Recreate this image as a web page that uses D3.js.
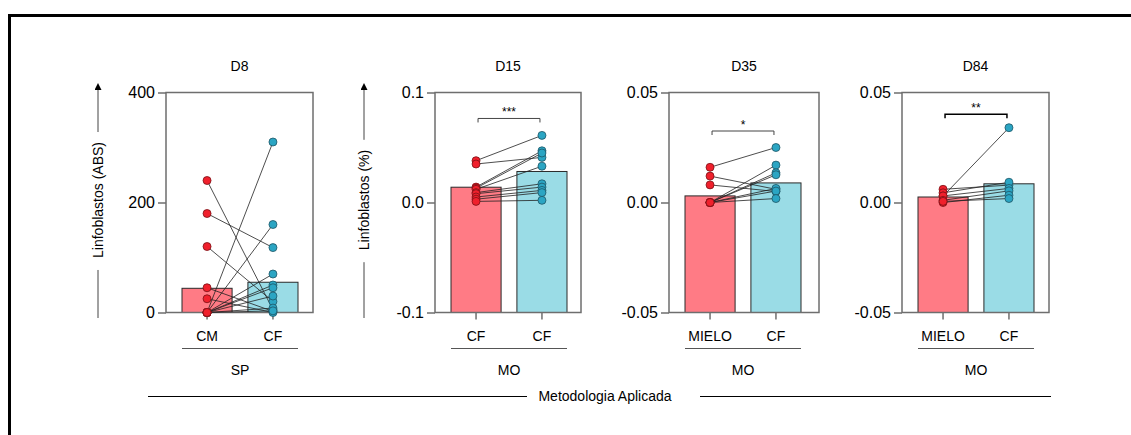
<!DOCTYPE html>
<html>
<head>
<meta charset="utf-8">
<script src="https://cdn.jsdelivr.net/npm/d3@7"></script>
<style>
  body { margin: 0; background: #fff; }
  svg { display: block; font-family: "Liberation Sans", Arial, sans-serif; }
</style>
</head>
<body>
<div id="chart"></div>
<script>
// panel titles, x categories, group labels
let panels = ["D8", "D15", "D35", "D84"];
let categories = [["CM", "CF"], ["CF", "CF"], ["MIELO", "CF"], ["MIELO", "CF"]];
let groupLabels = ["SP", "MO", "MO", "MO"];
let yDomains = [[0, 400], [-0.1, 0.1], [-0.05, 0.05], [-0.05, 0.05]];
let yTicks = [[0, 200, 400], [-0.1, 0, 0.1], [-0.05, 0, 0.05], [-0.05, 0, 0.05]];
let tickFormats = ["d", ".1f", ".2f", ".2f"];
let yLabels = ["Linfoblastos (ABS)", "Linfoblastos (%)", null, null];

// bar heights (means)
let barMeans = [[44, 55], [0.0139, 0.0282], [0.0030, 0.0089], [0.0025, 0.0085]];

// paired points: first column -> second column
let d8First = [240, 180, 120, 45, 25, 0, 0, 0, 0, 0, 0, 0, 0];
let d8Second = [5, 118, 20, 2, 0, 310, 160, 70, 50, 45, 30, 8, 3];
let d15First = [0.038, 0.035, 0.014, 0.013, 0.012, 0.009, 0.008, 0.005, 0.003, 0.001];
let d15Second = [0.061, 0.041, 0.047, 0.045, 0.033, 0.017, 0.014, 0.011, 0.009, 0.002];
let d35First = [0.016, 0.012, 0.008, 0, 0, 0, 0, 0, 0];
let d35Second = [0.025, 0.006, 0.005, 0.017, 0.0135, 0.0126, 0.0064, 0.0052, 0.0018];
let d84First = [0.006, 0.0044, 0.0029, 0.003, 0.001, 0, 0.0005];
let d84Second = [0.0079, 0.0092, 0.034, 0.0064, 0.0053, 0.0033, 0.0018];

// significance annotations
let sigLabels = [null, "***", "*", "**"];
let sigLevels = [null, 0.0764, 0.0325, 0.0401];

let pairs = [
  [d8First, d8Second],
  [d15First, d15Second],
  [d35First, d35Second],
  [d84First, d84Second]
];

let width = 1131, height = 435;
let plotTop = 92.5, plotBottom = 312.5;
let plotLeft = [166, 435, 669, 902];
let plotWidth = [147, 146, 150, 147];
let labelX = [98, 364];

let barColors = ["#ff7b85", "#9adce6"];
let dotColors = ["#f0202c", "#2ba5c3"];
let dotStroke = ["#7a1015", "#1d5566"];

let svg = d3.select("#chart")
  .append("svg")
  .attr("width", width)
  .attr("height", height);

svg.append("defs").append("marker")
  .attr("id", "arrow")
  .attr("viewBox", "0 0 10 10")
  .attr("refX", 5).attr("refY", 10)
  .attr("markerWidth", 7).attr("markerHeight", 9)
  .attr("markerUnits", "userSpaceOnUse")
  .attr("orient", "0")
  .append("path")
  .attr("d", "M0,10 L5,0 L10,10 Z")
  .attr("fill", "#000");

// outer frame
svg.append("path")
  .attr("d", `M9.5,${height} V15.5 H${width}`)
  .attr("fill", "none")
  .attr("stroke", "#000")
  .attr("stroke-width", 3);

panels.forEach((title, p) => {
  let w = plotWidth[p];
  let g = svg.append("g").attr("transform", `translate(${plotLeft[p]},0)`);

  let x = d3.scaleBand()
    .domain([0, 1])
    .range([16, 132])
    .paddingInner(0.24);

  let y = d3.scaleLinear()
    .domain(yDomains[p])
    .range([plotBottom, plotTop]);

  let cx = i => x(i) + x.bandwidth() / 2;
  let fmt = d3.format(tickFormats[p]);

  // bars
  g.selectAll("rect.bar")
    .data(barMeans[p])
    .enter()
    .append("rect")
    .attr("class", "bar")
    .attr("x", (d, i) => x(i))
    .attr("y", d => y(d))
    .attr("width", x.bandwidth())
    .attr("height", d => y(yDomains[p][0]) - y(d))
    .attr("fill", (d, i) => barColors[i])
    .attr("stroke", "#2a2a2a")
    .attr("stroke-width", 1);

  // plot box
  g.append("rect")
    .attr("x", 0)
    .attr("y", plotTop)
    .attr("width", w)
    .attr("height", plotBottom - plotTop)
    .attr("fill", "none")
    .attr("stroke", "#6e6e6e")
    .attr("stroke-width", 1.5);

  // y axis
  let yAxis = g.append("g")
    .call(d3.axisLeft(y)
      .tickValues(yTicks[p])
      .tickSize(8)
      .tickPadding(3)
      .tickFormat(d => fmt(d).replace("\u2212", "-")));
  yAxis.select(".domain").remove();
  yAxis.selectAll("line").attr("stroke", "#6e6e6e").attr("stroke-width", 1.5);
  yAxis.selectAll("text")
    .attr("fill", "#000")
    .style("font-size", "16px")
    .style("font-family", "'Liberation Sans', Arial, sans-serif");

  // x ticks and category labels
  [0, 1].forEach(i => {
    g.append("line")
      .attr("x1", cx(i)).attr("x2", cx(i))
      .attr("y1", plotBottom).attr("y2", plotBottom + 7)
      .attr("stroke", "#6e6e6e")
      .attr("stroke-width", 1.5);
    g.append("text")
      .attr("x", cx(i))
      .attr("y", 341)
      .attr("text-anchor", "middle")
      .style("font-size", "14px")
      .text(categories[p][i]);
  });

  // group line and label
  g.append("line")
    .attr("x1", 16).attr("x2", 132)
    .attr("y1", 348.5).attr("y2", 348.5)
    .attr("stroke", "#555")
    .attr("stroke-width", 1.2);
  g.append("text")
    .attr("x", 74)
    .attr("y", 375)
    .attr("text-anchor", "middle")
    .style("font-size", "14px")
    .text(groupLabels[p]);

  // title
  g.append("text")
    .attr("x", w / 2)
    .attr("y", 70.5)
    .attr("text-anchor", "middle")
    .style("font-size", "14px")
    .text(title);

  // paired lines
  let [first, second] = pairs[p];
  let pairData = first.map((v, i) => [v, second[i]]);
  g.selectAll("line.pair")
    .data(pairData)
    .enter()
    .append("line")
    .attr("class", "pair")
    .attr("x1", cx(0)).attr("x2", cx(1))
    .attr("y1", d => y(d[0]))
    .attr("y2", d => y(d[1]))
    .attr("stroke", "#222")
    .attr("stroke-opacity", 0.8)
    .attr("stroke-width", 1);

  // points
  [first, second].forEach((vals, i) => {
    g.selectAll(null)
      .data(vals)
      .enter()
      .append("circle")
      .attr("cx", cx(i))
      .attr("cy", d => y(d))
      .attr("r", 4)
      .attr("fill", dotColors[i])
      .attr("stroke", dotStroke[i])
      .attr("stroke-width", 0.8);
  });

  // significance bracket
  if (sigLabels[p]) {
    let sy = y(sigLevels[p]);
    let x0 = cx(0) + 2, x1 = cx(1) - 2;
    g.append("path")
      .attr("d", `M${x0},${sy + 4} V${sy} H${x1} V${sy + 4}`)
      .attr("fill", "none")
      .attr("stroke", p === 3 ? "#000" : "#444")
      .attr("stroke-width", p === 3 ? 1.5 : 1);
    g.append("text")
      .attr("x", (x0 + x1) / 2)
      .attr("y", sy - 2)
      .attr("text-anchor", "middle")
      .style("font-size", "12px")
      .text(sigLabels[p]);
  }

  // y label with arrow
  if (yLabels[p]) {
    let lx = labelX[p] - plotLeft[p];
    let label = g.append("text")
      .attr("transform", `translate(${lx},200) rotate(-90)`)
      .attr("text-anchor", "middle")
      .attr("dy", "0.35em")
      .style("font-size", "14px")
      .text(yLabels[p]);
    let half = label.node().getComputedTextLength() / 2;
    g.append("line")
      .attr("x1", lx).attr("x2", lx)
      .attr("y1", 200 - half - 10).attr("y2", 90)
      .attr("stroke", "#444")
      .attr("stroke-width", 1)
      .attr("marker-end", "url(#arrow)");
    g.append("line")
      .attr("x1", lx).attr("x2", lx)
      .attr("y1", 200 + half + 12).attr("y2", 318)
      .attr("stroke", "#444")
      .attr("stroke-width", 1);
  }
});

// shared bottom label
svg.append("text")
  .attr("x", 605)
  .attr("y", 401)
  .attr("text-anchor", "middle")
  .style("font-size", "14px")
  .text("Metodologia Aplicada");
svg.append("line")
  .attr("x1", 148).attr("x2", 527)
  .attr("y1", 396.5).attr("y2", 396.5)
  .attr("stroke", "#000");
svg.append("line")
  .attr("x1", 700).attr("x2", 1051)
  .attr("y1", 396.5).attr("y2", 396.5)
  .attr("stroke", "#000");
</script>
</body>
</html>
